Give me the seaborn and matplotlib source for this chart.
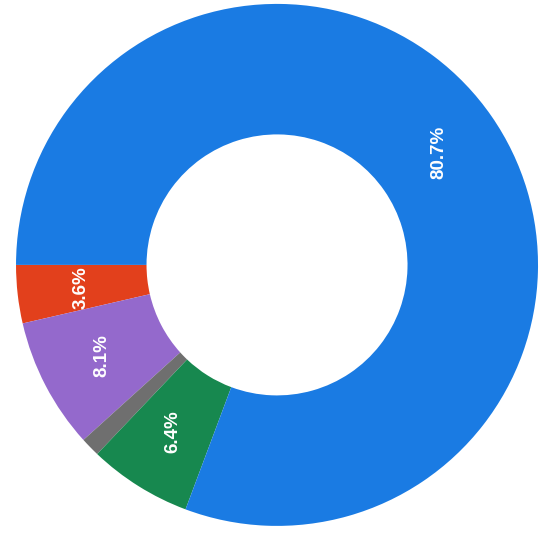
import matplotlib
matplotlib.use("Agg")
import matplotlib.pyplot as plt
import numpy as np
import seaborn as sns

# Share of each category, listed counter-clockwise from the 9 o'clock position
categories = ["Red", "Purple", "Gray", "Green", "Blue"]
shares = [3.6, 8.1, 1.2, 6.4, 80.7]
colors = ["#e2401c", "#9469cc", "#6f6f6f", "#17884f", "#1a7be3"]
labels = ["3.6%", "8.1%", "", "6.4%", "80.7%"]

sns.set_style("white")
plt.rcParams["font.family"] = ["Liberation Sans", "DejaVu Sans"]

fig = plt.figure(figsize=(5.41, 5.40), dpi=100)
ax = fig.add_axes([0, 0, 1, 1])

wedges, _ = ax.pie(
    shares,
    colors=colors,
    startangle=180,
    counterclock=True,
    radius=1.0,
    wedgeprops=dict(width=0.5, linewidth=0),
)

# Percent labels placed at the middle of each ring segment, rotated upright
for w, lab in zip(wedges, labels):
    if not lab:
        continue
    mid = np.deg2rad((w.theta1 + w.theta2) / 2)
    r = 0.755
    ax.text(r * np.cos(mid), r * np.sin(mid), lab, rotation=90,
            ha="center", va="center", color="white",
            fontsize=13.5, fontweight="bold")

ax.set_xlim(-1.061, 1.011)
ax.set_ylim(-1.054, 1.015)
ax.set_aspect("equal")
ax.axis("off")

fig.savefig("out.png", dpi=100, facecolor="white")
